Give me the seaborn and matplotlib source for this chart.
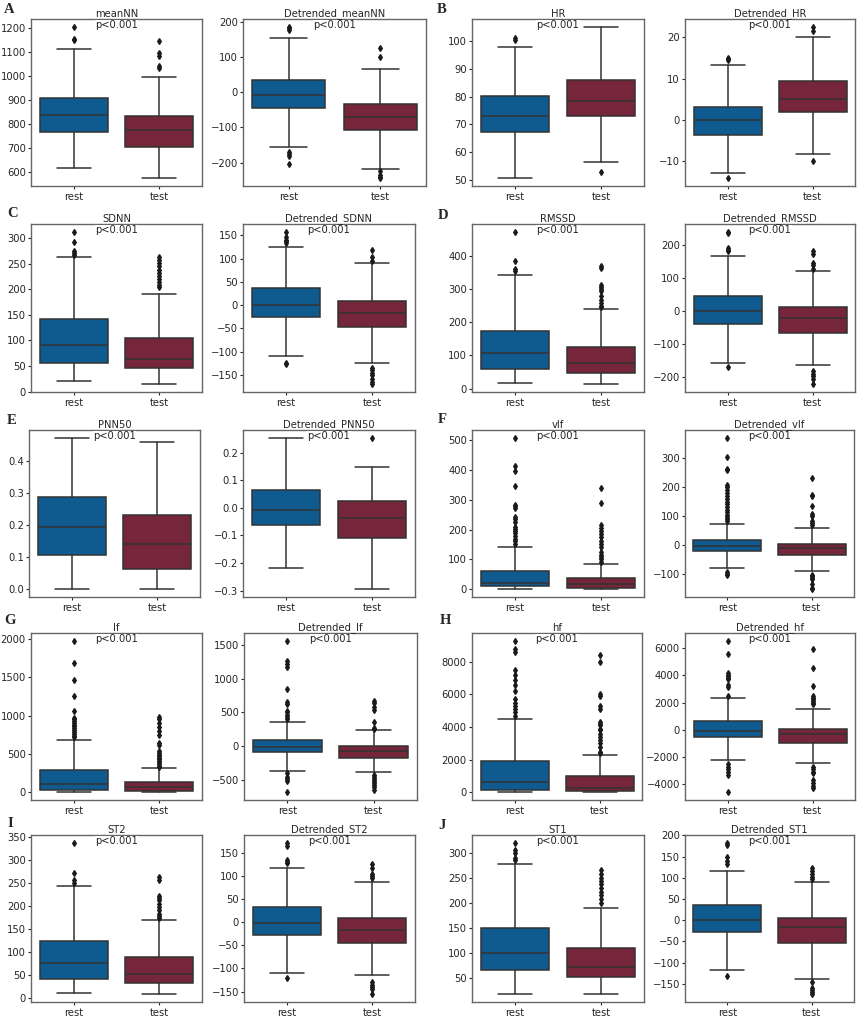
import numpy as np
import matplotlib
matplotlib.use("Agg")
import matplotlib.pyplot as plt
import seaborn as sns

# feature names, two per lettered panel
features = ["meanNN", "Detrended_meanNN", "HR", "Detrended_HR",
            "SDNN", "Detrended_SDNN", "RMSSD", "Detrended_RMSSD",
            "PNN50", "Detrended_PNN50", "vlf", "Detrended_vlf",
            "lf", "Detrended_lf", "hf", "Detrended_hf",
            "ST2", "Detrended_ST2", "ST1", "Detrended_ST1"]
letters = ["A", "B", "C", "D", "E", "F", "G", "H", "I", "J"]
groups = ["rest", "test"]
p_label = "p<0.001"

# box summaries: whisker low, q1, median, q3, whisker high
rest_stats = [
    [615, 765, 836, 907, 1110],
    [-156, -45, -8, 34, 154],
    [50.4, 67.2, 73.0, 80.1, 98.1],
    [-12.9, -3.5, -0.1, 3.2, 13.2],
    [21, 56, 91, 141, 263],
    [-109, -26, 0, 36, 126],
    [17, 59, 108, 173, 341],
    [-157, -38, 0, 45, 167],
    [0.0, 0.107, 0.193, 0.287, 0.473],
    [-0.218, -0.064, -0.009, 0.064, 0.252],
    [1, 10, 23, 63, 141],
    [-82, -23, -6, 17, 73],
    [5, 35, 109, 296, 687],
    [-359, -87, -15, 87, 364],
    [20, 163, 633, 1900, 4490],
    [-2210, -516, -74, 614, 2310],
    [12, 41, 77, 123, 242],
    [-110, -27, -1, 33, 118],
    [18, 65, 100, 150, 277],
    [-117, -28, 0, 36, 117],
]
test_stats = [
    [572, 704, 772, 832, 994],
    [-217, -107, -71, -34, 67],
    [56.5, 72.9, 78.5, 86.1, 105.4],
    [-8.3, 2.0, 5.1, 9.4, 20.2],
    [14, 47, 64, 105, 190],
    [-125, -47, -16, 8, 91],
    [13, 47, 76, 126, 240],
    [-162, -66, -22, 11, 122],
    [0.0, 0.064, 0.14, 0.233, 0.458],
    [-0.296, -0.111, -0.036, 0.024, 0.150],
    [0, 6, 19, 38, 86],
    [-91, -36, -12, 2, 58],
    [0, 22, 65, 139, 313],
    [-383, -170, -68, 0, 238],
    [0, 100, 300, 1000, 2265],
    [-2457, -1007, -320, 50, 1500],
    [8, 33, 53, 89, 170],
    [-114, -46, -16, 9, 86],
    [17, 52, 71, 109, 189],
    [-138, -53, -17, 6, 89],
]

rest_fliers = [
    [1205, 1155, 1150],
    [187, 182, 177, -170, -175, -180, -205],
    [100.5, 101.2],
    [14.5, 14.8, 15.0, -14.1],
    [313, 292, 276, 272, 268],
    [158, 147, 140, 137, 133, -124, -127],
    [473, 384, 360, 354],
    [240, 235, 190, 185, 182, -170],
    [],
    [],
    [507, 413, 395, 347, 283, 277, 272, 243, 235, 225, 210, 203, 195, 188,
     180, 170, 160, 150],
    [372, 305, 262, 258, 208, 200, 190, 180, 170, 160, 150, 140, 130, 120,
     112, 105, 98, 90, 82, -95, -100, -105],
    [1975, 1685, 1465, 1250, 1065, 970, 950, 930, 900, 880, 860, 840, 810,
     780, 760, 740, 720],
    [1560, 1260, 1220, 1170, 840, 650, 620, 520, 500, 460, 430, 400,
     -400, -450, -480, -510, -680],
    [9300, 8800, 8600, 7500, 7200, 6900, 6600, 6200, 5700, 5500, 5300, 5100,
     4900, 4700],
    [6550, 5600, 4150, 4050, 3950, 3800, 3700, 3300, 3150, 2500,
     -2500, -2700, -2900, -3100, -3300, -4600],
    [337, 272, 255, 250],
    [172, 165, 135, 130, 128, -121],
    [320, 305, 300, 290, 286],
    [183, 178, 150, 140, 133, -131],
]
test_fliers = [
    [1147, 1096, 1082, 1042, 1032],
    [125, 100, -225, -235, -240, -245],
    [52.6],
    [21.5, 22.6, -9.8],
    [263, 258, 252, 245, 238, 232, 226, 220, 214, 208, 204],
    [118, 104, 94, -135, -140, -145, -150, -158, -165, -170],
    [368, 362, 312, 306, 300, 295, 278, 268, 258, 250, 246],
    [180, 172, 145, 138, 128, -182, -190, -197, -205, -222],
    [],
    [0.255],
    [338, 287, 215, 205, 195, 185, 175, 160, 150, 140, 125, 115, 108, 100, 93],
    [232, 172, 168, 136, 108, 100, 82, 75, 70,
     -105, -110, -115, -120, -135, -150, -155],
    [975, 950, 900, 850, 800, 750, 640, 620, 540, 510, 490, 470, 450, 430,
     410, 390, 370, 350, 330],
    [670, 640, 580, 540, 360, 270, 250,
     -420, -450, -480, -510, -540, -570, -600, -640],
    [8400, 8000, 6050, 5900, 5300, 5100, 4300, 4200, 4100, 3900, 3800, 3600,
     3400, 3200, 3000, 2800, 2500, 2400],
    [5950, 4550, 3200, 2450, 2350, 2250, 2150, 2000, 1900,
     -2700, -2900, -3100, -3200, -3700, -3900, -4100, -4300],
    [262, 255, 222, 218, 212, 205, 198, 190, 183, 178, 173],
    [125, 118, 105, 100, 95, -130, -135, -140, -145, -156],
    [265, 258, 250, 243, 237, 230, 222, 215, 208, 200],
    [122, 115, 108, 102, 96, -145, -160, -165, -170, -175],
]

# y tick labels per panel
yticks = [
    [600, 700, 800, 900, 1000, 1100, 1200],
    [-200, -100, 0, 100, 200],
    [50, 60, 70, 80, 90, 100],
    [-10, 0, 10, 20],
    [0, 50, 100, 150, 200, 250, 300],
    [-150, -100, -50, 0, 50, 100, 150],
    [0, 100, 200, 300, 400],
    [-200, -100, 0, 100, 200],
    [0.0, 0.1, 0.2, 0.3, 0.4],
    [-0.3, -0.2, -0.1, 0.0, 0.1, 0.2],
    [0, 100, 200, 300, 400, 500],
    [-100, 0, 100, 200, 300],
    [0, 500, 1000, 1500, 2000],
    [-500, 0, 500, 1000, 1500],
    [0, 2000, 4000, 6000, 8000],
    [-4000, -2000, 0, 2000, 4000, 6000],
    [0, 50, 100, 150, 200, 250, 300, 350],
    [-150, -100, -50, 0, 50, 100, 150],
    [50, 100, 150, 200, 250, 300],
    [-150, -100, -50, 0, 50, 100, 150, 200],
]

W, H = 858, 1017
# axes boxes in pixels: left, right, top, bottom
axes_px = [
    (31, 202, 19, 186), (243, 426, 19, 186), (472, 644, 19, 186), (685, 855, 19, 186),
    (31, 202, 224, 392), (243, 415, 224, 392), (472, 644, 224, 392), (685, 855, 224, 392),
    (29, 200, 430, 597), (243, 415, 430, 597), (472, 644, 430, 597), (685, 854, 430, 597),
    (31, 202, 633, 800), (244, 417, 633, 800), (472, 642, 633, 800), (685, 855, 633, 800),
    (31, 202, 835, 1002), (244, 415, 835, 1002), (472, 644, 835, 1002), (685, 854, 835, 1002),
]
letter_px = [(4, 3), (437, 3), (7, 207), (438, 209), (7, 414),
             (438, 413), (4, 614), (440, 614), (7, 817), (438, 819)]

sns.set_style("ticks", {"axes.edgecolor": "0.4"})
plt.rcParams["font.family"] = ["DejaVu Sans"]
plt.rcParams["xtick.major.size"] = 2.5
plt.rcParams["ytick.major.size"] = 2.5
plt.rcParams["xtick.major.width"] = 0.8
plt.rcParams["ytick.major.width"] = 0.8
palette = sns.color_palette(["#0f5a8e", "#76263a"])
line_gray = "#333333"
fs = 7.2

fig = plt.figure(figsize=(W / 100, H / 100), dpi=100)

for i, name in enumerate(features):
    l, r, t, b = axes_px[i]
    ax = fig.add_axes([l / W, 1 - b / H, (r - l) / W, (b - t) / H])
    stats = []
    for g, box, fl in [(groups[0], rest_stats[i], rest_fliers[i]),
                       (groups[1], test_stats[i], test_fliers[i])]:
        stats.append(dict(label=g, whislo=box[0], q1=box[1], med=box[2],
                          q3=box[3], whishi=box[4], fliers=fl))
    bp = ax.bxp(stats, positions=[0, 1], widths=0.8, patch_artist=True,
                boxprops=dict(edgecolor=line_gray, linewidth=1.1),
                whiskerprops=dict(color=line_gray, linewidth=1.1),
                capprops=dict(color=line_gray, linewidth=1.1),
                medianprops=dict(color=line_gray, linewidth=1.1),
                flierprops=dict(marker="d", markersize=3.0, markerfacecolor="#1a1a1a",
                                markeredgecolor="#1a1a1a", linestyle="none"))
    for patch, c in zip(bp["boxes"], palette):
        patch.set_facecolor(c)
    ax.set_xlim(-0.5, 1.5)
    ax.set_xticks([0, 1])
    ax.set_xticklabels(groups)
    ax.set_yticks(yticks[i])
    ax.tick_params(axis="y", labelsize=fs, pad=1.2)
    ax.tick_params(axis="x", labelsize=fs, pad=1.5)
    for s in ax.spines.values():
        s.set_linewidth(1.0)
    ax.set_title(name, fontsize=fs, pad=1.5)
    ax.text(0.5, 0.962, p_label, transform=ax.transAxes, ha="center", va="center",
            fontsize=fs, zorder=10,
            bbox=dict(facecolor="white", edgecolor="none", pad=0.3))

for k, letter in enumerate(letters):
    x, y = letter_px[k]
    fig.text(x / W, 1 - y / H, letter, ha="left", va="top", fontsize=10.5,
             fontweight="bold", family=["Liberation Serif", "DejaVu Serif"])

fig.savefig("out.png", dpi=100)
